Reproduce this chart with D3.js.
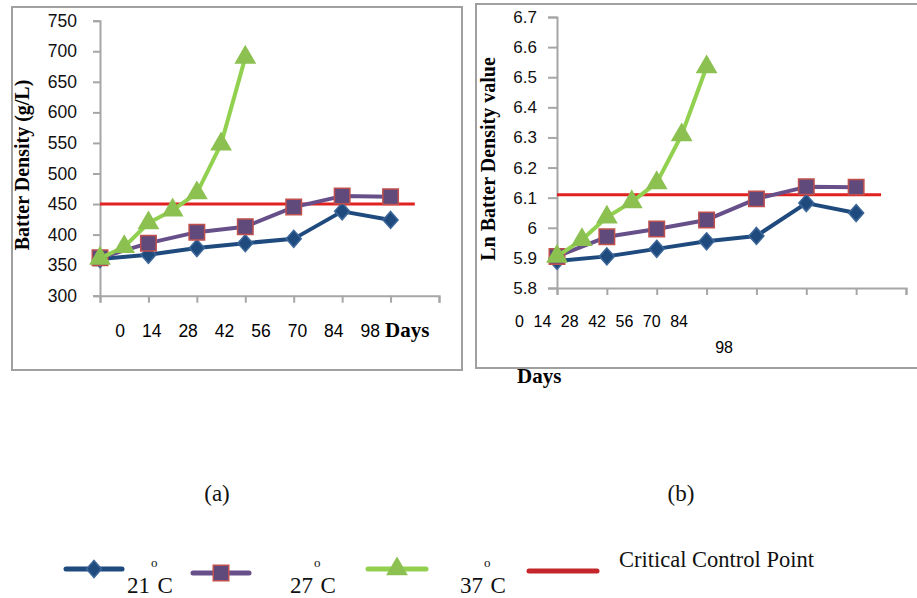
<!DOCTYPE html>
<meta charset="utf-8">
<style>
  body { margin: 0; background: #fff; }
  .axis path, .axis line { stroke: #a6a6a6; stroke-width: 2; }
  .axis text { fill: #111; font-family: "Liberation Sans", Arial, sans-serif; }
  .title { font-family: "Liberation Serif", "Times New Roman", serif; font-weight: bold; fill: #000; }
  .serif { font-family: "Liberation Serif", "Times New Roman", serif; fill: #111; }
  .frame { fill: none; stroke: #a0a0a0; stroke-width: 2; }
</style>
<svg width="917" height="598"></svg>
<script src="https://d3js.org/d3.v7.min.js"></script>
<script>
  // data
  var days = [0, 14, 28, 42, 56, 70, 84],
    greenDays = [0, 7, 14, 21, 28, 35, 42],
    critDays = [0, 91],
    dayTicks = [0, 14, 28, 42, 56, 70, 84, 98],
    dayLabels = ["0", "14", "28", "42", "56", "70", "84", "98"];

  // (a) batter density, g/L
  var dens21 = [360, 367, 378, 386, 393, 438, 424],
    dens27 = [362, 386, 404, 413, 445, 463, 462],
    dens37 = [361, 380, 419, 440, 468, 548, 690],
    densCrit = [450, 450],
    densTicks = [300, 350, 400, 450, 500, 550, 600, 650, 700, 750];

  // (b) ln batter density
  var ln21 = [5.89, 5.905, 5.93, 5.955, 5.973, 6.082, 6.049],
    ln27 = [5.905, 5.97, 5.996, 6.026, 6.096, 6.136, 6.135],
    ln37 = [5.905, 5.96, 6.035, 6.086, 6.149, 6.308, 6.534],
    lnCrit = [6.11, 6.11],
    lnTicks = [5.8, 5.9, 6.0, 6.1, 6.2, 6.3, 6.4, 6.5, 6.6, 6.7];

  var seriesNames = ["21", "27", "37"],
    critName = "Critical Control Point";

  var styles = [
    { line: "#1f4a7e", fill: "#1f4a7e", stroke: "#3d6799", shape: "diamond" },
    { line: "#67508a", fill: "#604a7b", stroke: "#c0504d", shape: "square" },
    { line: "#92d050", fill: "#8cc152", stroke: "#8cc152", shape: "triangle" }
  ];
  var critColor = "#e0211f";

  var svg = d3.select("svg");

  function markerPath(shape) {
    if (shape === "diamond") return "M0,-8.5L7.5,0L0,8.5L-7.5,0Z";
    if (shape === "square") return d3.symbol(d3.symbolSquare, 240)();
    return d3.symbol(d3.symbolTriangle, 160)();
  }

  function panel(cfg) {
    var x = d3.scaleLinear().domain([0, 98]).range(cfg.xRange),
      y = d3.scaleLinear().domain(d3.extent(cfg.yTicks)).range(cfg.yRange);
    var g = svg.append("g");

    g.append("g")
      .attr("class", "axis")
      .attr("transform", "translate(" + cfg.xRange[0] + ",0)")
      .call(d3.axisLeft(y).tickValues(cfg.yTicks).tickSize(cfg.tick)
        .tickPadding(cfg.pad).tickFormat(function(d) { return +d.toFixed(1); }))
      .selectAll("text").style("font-size", cfg.yFont + "px");

    g.append("g")
      .attr("class", "axis")
      .attr("transform", "translate(0," + cfg.yRange[0] + ")")
      .call(d3.axisBottom(x).tickValues(dayTicks).tickSize(7).tickFormat(""));

    var line = d3.line()
      .x(function(d) { return x(d[0]); })
      .y(function(d) { return y(d[1]); });

    g.append("path")
      .datum(d3.zip(critDays, cfg.crit))
      .attr("d", line)
      .attr("fill", "none")
      .attr("stroke", critColor)
      .attr("stroke-width", 3);

    cfg.series.forEach(function(vals, i) {
      var xs = i === 2 ? greenDays : days,
        pts = d3.zip(xs, vals),
        st = styles[i];
      g.append("path")
        .datum(pts)
        .attr("d", line)
        .attr("fill", "none")
        .attr("stroke", st.line)
        .attr("stroke-width", 4)
        .attr("stroke-linejoin", "round");
      g.selectAll(".m" + i)
        .data(pts)
        .enter().append("path")
        .attr("class", "m" + i)
        .attr("transform", function(d) { return "translate(" + x(d[0]) + "," + y(d[1]) + ")"; })
        .attr("d", markerPath(st.shape))
        .attr("fill", st.fill)
        .attr("stroke", st.stroke)
        .attr("stroke-width", 1.5);
    });

    // y title
    g.append("text")
      .attr("class", "title")
      .attr("transform", "translate(" + cfg.yTitle[0] + "," + cfg.yTitle[1] + ") rotate(-90)")
      .attr("text-anchor", "middle")
      .style("font-size", "20px")
      .text(cfg.yTitleText);

    // tick labels, laid out as text rows
    var lx = d3.scalePoint().domain(cfg.rowLabels).range(cfg.labelRange);
    g.selectAll(".xl")
      .data(cfg.rowLabels)
      .enter().append("text")
      .attr("class", "xl")
      .attr("x", function(d) { return lx(d); })
      .attr("y", cfg.labelY)
      .attr("text-anchor", "end")
      .style("font-family", "Liberation Sans, Arial, sans-serif")
      .style("font-size", cfg.xFont + "px")
      .text(function(d) { return d; });

    return g;
  }

  svg.append("rect").attr("class", "frame").attr("x", 12).attr("y", 7).attr("width", 450).attr("height", 363);
  svg.append("rect").attr("class", "frame").attr("x", 476).attr("y", 4).attr("width", 470).attr("height", 364);

  var a = panel({
    xRange: [100, 439], yRange: [295.7, 20.7], yTicks: densTicks,
    tick: 7, pad: 16, yFont: 17.5, xFont: 17.5,
    crit: densCrit, series: [dens21, dens27, dens37],
    yTitle: [29, 165], yTitleText: "Batter Density (g/L)",
    rowLabels: dayLabels, labelRange: [125, 380], labelY: 337
  });
  a.append("text").attr("class", "title").attr("x", 385).attr("y", 337)
    .style("font-size", "21px").text("Days");

  var b = panel({
    xRange: [557, 906], yRange: [288, 17], yTicks: lnTicks,
    tick: 9, pad: 11, yFont: 17, xFont: 16,
    crit: lnCrit, series: [ln21, ln27, ln37],
    yTitle: [495, 159], yTitleText: "Ln Batter Density value",
    rowLabels: dayLabels.slice(0, 7), labelRange: [524, 688], labelY: 327
  });
  // last label wrapped onto a second row
  b.append("text").attr("x", 733).attr("y", 353).attr("text-anchor", "end")
    .style("font-family", "Liberation Sans, Arial, sans-serif").style("font-size", "16px")
    .text(dayLabels[7]);
  b.append("text").attr("class", "title").attr("x", 517).attr("y", 383)
    .style("font-size", "21px").text("Days");

  // panel captions
  svg.append("text").attr("class", "serif").attr("x", 217).attr("y", 501)
    .attr("text-anchor", "middle").style("font-size", "23px").text("(a)");
  svg.append("text").attr("class", "serif").attr("x", 681).attr("y", 501)
    .attr("text-anchor", "middle").style("font-size", "23px").text("(b)");

  // legend
  var legendPos = [
    { x0: 66, x1: 122, y: 569, tx: 127 },
    { x0: 193, x1: 249, y: 573, tx: 290 },
    { x0: 368, x1: 426, y: 569, tx: 460 }
  ];
  var leg = svg.append("g");
  seriesNames.forEach(function(name, i) {
    var p = legendPos[i], st = styles[i];
    leg.append("line").attr("x1", p.x0).attr("x2", p.x1).attr("y1", p.y).attr("y2", p.y)
      .attr("stroke", st.line).attr("stroke-width", 5).attr("stroke-linecap", "round");
    leg.append("path").attr("transform", "translate(" + (p.x0 + p.x1) / 2 + "," + p.y + ")")
      .attr("d", markerPath(st.shape)).attr("fill", st.fill).attr("stroke", st.stroke).attr("stroke-width", 1.5);
    var t = leg.append("text").attr("class", "serif").attr("x", p.tx).attr("y", 593).style("font-size", "23px");
    t.append("tspan").text(name);
    t.append("tspan").attr("dx", 1).attr("dy", -26).style("font-size", "13px").text("o");
    t.append("tspan").attr("dx", 0).attr("dy", 26).text("C");
  });
  leg.append("line").attr("x1", 529).attr("x2", 597).attr("y1", 571).attr("y2", 571)
    .attr("stroke", "#c4262b").attr("stroke-width", 5).attr("stroke-linecap", "round");
  leg.append("text").attr("class", "serif").attr("x", 619).attr("y", 567)
    .style("font-size", "22.5px").text(critName);
</script>
